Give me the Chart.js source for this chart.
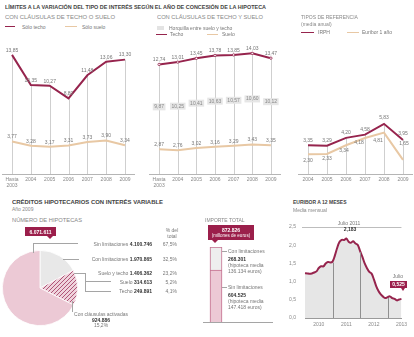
<!DOCTYPE html>
<html>
<head>
<meta charset="utf-8">
<script src="https://cdn.jsdelivr.net/npm/chart.js@4"></script>
<style>
body{margin:0;width:414px;height:337px;position:relative;background:#fff;font-family:"Liberation Sans",Arial,sans-serif;overflow:hidden}
canvas{position:absolute}
.t{position:absolute;white-space:nowrap;font-size:5px;line-height:1.2;color:#777}
.t b{color:#333}
</style>
</head>
<body>
<canvas id="c1" width="140" height="160" style="left:0;top:30px"></canvas>
<canvas id="c2" width="140" height="160" style="left:145px;top:30px"></canvas>
<canvas id="c3" width="119" height="160" style="left:295px;top:30px"></canvas>
<canvas id="pie" width="76" height="76" style="left:2px;top:250px"></canvas>
<canvas id="bar" width="22" height="80" style="left:205px;top:245px"></canvas>
<canvas id="eur" width="128" height="118" style="left:283px;top:215px"></canvas>
<script>
// datos
var years = [['Hasta', '2003'], '2004', '2005', '2006', '2007', '2008', '2009'];
var soloTecho = [13.85, 10.35, 10.27, 8.80, 11.48, 13.06, 13.30];
var soloSuelo = [3.77, 3.28, 3.17, 3.31, 3.73, 3.90, 3.34];
var techo = [12.74, 13.01, 13.45, 13.78, 13.85, 14.03, 13.47];
var suelo = [2.87, 2.76, 3.02, 3.16, 3.29, 3.43, 3.35];
var horquilla = [9.87, 10.25, 10.41, 10.63, 10.57, 10.60, 10.12];

var refYears = ['2004', '2005', '2006', '2007', '2008', '2009'];
var irph = [3.35, 3.29, 4.20, 4.58, 5.83, 3.95];
var euribor1 = [2.30, 2.33, 3.34, 4.18, 4.81, 1.65];

var tramos = ['Con limitaciones no activadas', 'Con cláusulas activadas', 'Sin limitaciones'];
var hipotecas = [1045979, 924886, 4100746];
var desglose = ['Suelo y techo', 'Suelo', 'Techo'];
var desgloseN = [1406362, 314613, 249891];

var importeLabels = ['Sin limitaciones', 'Con limitaciones'];
var importe = [604.525, 268.301];
var hipotecaMedia = ['147.418', '136.134'];

var meses = [];
for (var a = 2010; a <= 2013; a++) for (var m = 1; m <= 12; m++) if (a < 2013 || m <= 7) meses.push(a + '-' + (m < 10 ? '0' : '') + m);
var euribor12m = [1.232, 1.225, 1.215, 1.225, 1.249, 1.281, 1.373, 1.421, 1.420, 1.495, 1.541, 1.526,
                  1.550, 1.714, 1.924, 2.086, 2.147, 2.144, 2.183, 2.097, 2.067, 2.110, 2.044, 2.004,
                  1.837, 1.678, 1.499, 1.368, 1.266, 1.219, 1.061, 0.877, 0.740, 0.650, 0.588, 0.549,
                  0.575, 0.594, 0.545, 0.528, 0.484, 0.507, 0.525];

var maroon = '#96244d', beige = '#e8c8a4', pink = '#ecc9d5', grey = '#e8e8e8', badge = '#9b1f4b';

Chart.defaults.font.family = '"Liberation Sans", Arial, sans-serif';
Chart.defaults.font.size = 5;
Chart.defaults.color = '#888';

function comma(v, d) { return v.toFixed(d).replace('.', ','); }
function dots(n) { return String(n).replace(/\B(?=(\d{3})+(?!\d))/g, '.'); }

// lineas verticales y etiquetas de valor
var dropAndLabels = {
    id: 'dropAndLabels',
    beforeDatasetsDraw: function(chart) {
        var ctx = chart.ctx, x = chart.scales.x, y = chart.scales.y;
        ctx.save();
        ctx.strokeStyle = '#cfcfcf';
        ctx.lineWidth = 1;
        chart.data.labels.forEach(function(l, i) {
            var top = Math.max.apply(null, chart.data.datasets.map(function(d) { return d.data[i]; }));
            var px = Math.round(x.getPixelForValue(i)) + 0.5;
            ctx.beginPath();
            ctx.moveTo(px, y.getPixelForValue(top));
            ctx.lineTo(px, chart.chartArea.bottom);
            ctx.stroke();
        });
        ctx.restore();
    },
    afterDatasetsDraw: function(chart) {
        var ctx = chart.ctx, x = chart.scales.x, y = chart.scales.y;
        ctx.save();
        ctx.font = '5px "Liberation Sans"';
        ctx.fillStyle = '#777';
        ctx.textAlign = 'center';
        ctx.textBaseline = 'middle';
        chart.data.datasets.forEach(function(ds) {
            ds.data.forEach(function(v, i) {
                var dy = Array.isArray(ds.labelDy) ? ds.labelDy[i] : ds.labelDy;
                var dx = ds.labelDx ? ds.labelDx[i] : 0;
                ctx.fillText(comma(v, 2), x.getPixelForValue(i) + dx, y.getPixelForValue(v) + dy);
            });
        });
        ctx.restore();
    }
};

var horquillaBoxes = {
    id: 'horquillaBoxes',
    afterDatasetsDraw: function(chart) {
        var ctx = chart.ctx, x = chart.scales.x, y = chart.scales.y;
        ctx.save();
        ctx.font = '5px "Liberation Sans"';
        ctx.textAlign = 'center';
        ctx.textBaseline = 'middle';
        horquilla.forEach(function(v, i) {
            var px = x.getPixelForValue(i);
            var py = (y.getPixelForValue(techo[i]) + y.getPixelForValue(suelo[i])) / 2;
            var txt = comma(v, 2);
            var w = ctx.measureText(txt).width + 3;
            ctx.fillStyle = '#e6e6e6';
            ctx.fillRect(px - w / 2, py - 3.5, w, 7);
            ctx.fillStyle = '#888';
            ctx.fillText(txt, px, py);
        });
        ctx.restore();
    }
};

function topChart(id, labels, datasets, pad, extra) {
    return new Chart(document.getElementById(id), {
        type: 'line',
        data: { labels: labels, datasets: datasets },
        options: {
            responsive: false,
            animation: false,
            layout: { padding: pad },
            plugins: { legend: { display: false }, tooltip: { enabled: false } },
            scales: {
                x: {
                    offset: true,
                    grid: { display: false, drawTicks: false },
                    border: { color: '#b5b5b5' },
                    ticks: { color: '#888', padding: 3, maxRotation: 0, autoSkip: false },
                    afterFit: function(s) { s.height = 16; }
                },
                y: { display: false, min: 0, max: 16 }
            }
        },
        plugins: [dropAndLabels].concat(extra || [])
    });
}

function line(data, color, extra) {
    var d = { data: data, borderColor: color, borderWidth: 2, pointRadius: 0, tension: 0, labelDy: -4.5 };
    for (var k in extra) d[k] = extra[k];
    return d;
}

topChart('c1', years, [
    line(soloSuelo, beige),
    line(soloTecho, maroon)
], { top: 6.4, left: 2.6, right: 5.6, bottom: 0 });

topChart('c2', years, [
    line(suelo, beige),
    line(techo, maroon, { pointRadius: 1.2, pointBackgroundColor: '#fff', pointBorderColor: maroon, pointBorderWidth: 0.8 })
], { top: 6.4, left: 4.5, right: 2.5, bottom: 0 }, [horquillaBoxes]);

topChart('c3', refYears, [
    line(euribor1, beige, { labelDy: [6, 5, 5, 5, 8, -16], labelDx: [0, 0, -2, -6, -6, 1] }),
    line(irph, maroon, { labelDy: [-5, -5, -5, -5, -6, -6] })
], { top: 6.4, left: 3.5, right: 1.5, bottom: 0 });

// tarta
var pc = document.createElement('canvas');
pc.width = 4; pc.height = 4;
var pctx = pc.getContext('2d');
pctx.fillStyle = '#efd3dc';
pctx.fillRect(0, 0, 4, 4);
pctx.strokeStyle = '#a8466b';
pctx.lineWidth = 0.9;
pctx.beginPath();
pctx.moveTo(0, 4); pctx.lineTo(4, 0);
pctx.moveTo(-1, 1); pctx.lineTo(1, -1);
pctx.moveTo(3, 5); pctx.lineTo(5, 3);
pctx.stroke();
var hatch = document.getElementById('pie').getContext('2d').createPattern(pc, 'repeat');

new Chart(document.getElementById('pie'), {
    type: 'pie',
    data: {
        labels: tramos,
        datasets: [{ data: hipotecas, backgroundColor: [grey, hatch, pink], borderColor: '#fff', borderWidth: 0.8 }]
    },
    options: {
        responsive: false,
        animation: false,
        plugins: { legend: { display: false }, tooltip: { enabled: false } }
    }
});

// barra importe
var totalImporte = importe.reduce(function(a, b) { return a + b; }, 0);
new Chart(document.getElementById('bar'), {
    type: 'bar',
    data: {
        labels: ['2009'],
        datasets: [
            { label: importeLabels[0], data: [importe[0]], backgroundColor: pink, borderColor: '#c4718f', borderWidth: 1, barThickness: 12 },
            { label: importeLabels[1], data: [importe[1]], backgroundColor: '#eeeeee', borderColor: '#c4718f', borderWidth: 1, barThickness: 12 }
        ]
    },
    options: {
        responsive: false,
        animation: false,
        layout: { padding: { top: 2, bottom: 3 } },
        plugins: { legend: { display: false }, tooltip: { enabled: false } },
        scales: {
            x: { display: false, stacked: true },
            y: { display: false, stacked: true, min: 0, max: totalImporte }
        }
    }
});

// euribor mensual
var eurLines = {
    id: 'eurLines',
    afterDatasetsDraw: function(chart) {
        var ctx = chart.ctx, x = chart.scales.x, y = chart.scales.y, area = chart.chartArea;
        ctx.save();
        ctx.lineWidth = 1;
        ctx.strokeStyle = '#bdbdbd';
        var gy = Math.round(y.getPixelForValue(2.5)) + 0.5;
        ctx.beginPath(); ctx.moveTo(area.left - 3, gy); ctx.lineTo(area.right, gy); ctx.stroke();
        ctx.strokeStyle = '#8f8f8f';
        meses.forEach(function(m, i) {
            if (i > 0 && m.slice(5) === '01') {
                var px = Math.round(x.getPixelForValue(i)) + 0.5;
                ctx.beginPath();
                ctx.moveTo(px, y.getPixelForValue(euribor12m[i]) + 1);
                ctx.lineTo(px, area.bottom);
                ctx.stroke();
            }
        });
        ctx.restore();
    }
};

new Chart(document.getElementById('eur'), {
    type: 'line',
    data: {
        labels: meses,
        datasets: [{
            data: euribor12m, borderColor: maroon, borderWidth: 2, pointRadius: 0, tension: 0.35,
            fill: 'origin', backgroundColor: '#e6e6e6'
        }]
    },
    options: {
        responsive: false,
        animation: false,
        layout: { padding: { left: 2, right: 7, top: 8, bottom: 0 } },
        plugins: { legend: { display: false }, tooltip: { enabled: false } },
        scales: {
            x: {
                offset: false,
                grid: { display: false, drawTicks: false },
                border: { color: '#9a9a9a' },
                ticks: {
                    autoSkip: false, maxRotation: 0, padding: 4,
                    callback: function(v, i) { return meses[i].slice(5) === '07' ? meses[i].slice(0, 4) : ''; }
                },
                afterFit: function(s) { s.height = 15; }
            },
            y: {
                min: 0, max: 2.5,
                grid: { display: false, drawTicks: false },
                border: { display: false },
                ticks: { stepSize: 0.5, padding: 9, callback: function(v) { return comma(v, 1); } },
                afterFit: function(s) { s.width = 20; }
            }
        }
    },
    plugins: [eurLines]
});

// textos
function T(x, y, html, o) {
    o = o || {};
    var d = document.createElement('div');
    d.className = 't';
    d.innerHTML = html;
    if (o.fs) d.style.fontSize = o.fs + 'px';
    if (o.b) d.style.fontWeight = 'bold';
    if (o.c) d.style.color = o.c;
    if (o.bg) { d.style.background = o.bg; d.style.padding = '0 2px'; }
    document.body.appendChild(d);
    var r = d.getBoundingClientRect();
    var sx = o.w ? o.w / r.width : 1;
    var rw = r.width * sx;
    var left = o.a === 'r' ? x - rw : o.a === 'c' ? x - rw / 2 : x;
    d.style.left = left + 'px';
    d.style.top = (y - r.height / 2) + 'px';
    if (sx !== 1) { d.style.transformOrigin = '0 0'; d.style.transform = 'scaleX(' + sx + ')'; }
    return d;
}
function box(x, y, w, h, c) {
    var d = document.createElement('div');
    d.style.cssText = 'position:absolute;left:' + x + 'px;top:' + y + 'px;width:' + w + 'px;height:' + h + 'px;background:' + c;
    document.body.appendChild(d);
}
function H(x1, x2, y) { box(x1, y - 0.5, x2 - x1, 1, '#a5a5a5'); }
function V(x, y1, y2) { box(x - 0.5, y1, 1, y2 - y1, '#a5a5a5'); }
function tri(x, y, w, h, c) {
    var d = document.createElement('div');
    d.style.cssText = 'position:absolute;left:' + (x - w / 2) + 'px;top:' + y + 'px;width:0;height:0;border-left:' + (w / 2) + 'px solid transparent;border-right:' + (w / 2) + 'px solid transparent;border-top:' + h + 'px solid ' + c;
    document.body.appendChild(d);
}

T(5, 7, 'LÍMITES A LA VARIACIÓN DEL TIPO DE INTERÉS SEGÚN EL AÑO DE CONCESIÓN DE LA HIPOTECA', { b: 1, c: '#444', w: 261 });

T(5, 17, 'CON CLÁUSULAS DE TECHO O SUELO', { c: '#888', w: 110 });
box(5, 25.7, 10, 1.6, maroon); T(22, 26.5, 'Sólo techo');
box(65, 25.7, 12, 1.6, beige); T(82, 26.5, 'Sólo suelo');

T(157, 17, 'CON CLÁUSULAS DE TECHO Y SUELO', { c: '#888', w: 106 });
box(157, 26, 7, 4, '#e3e3e3'); T(169, 28, 'Horquilla entre suelo y techo');
box(156, 33.5, 11, 1.6, maroon); T(170, 34.3, 'Techo');
box(207, 33.5, 11, 1.6, beige); T(222, 34.3, 'Suelo');

T(301, 17, 'TIPOS DE REFERENCIA', { c: '#888' });
T(301, 23.5, '(media anual)', { c: '#888' });
box(301, 31.5, 13, 1.6, maroon); T(318, 32.3, 'IRPH');
box(347, 31.5, 12, 1.6, beige); T(362, 32.3, 'Euribor 1 año');

// hipotecas
var totalHip = hipotecas.reduce(function(a, b) { return a + b; }, 0);
function pct(n) { return comma(n / totalHip * 100, 1) + '%'; }

T(12, 202, 'CRÉDITOS HIPOTECARIOS CON INTERÉS VARIABLE', { b: 1, c: '#444', w: 151 });
T(12, 208.5, 'Año 2009', { c: '#888' });
T(12, 220, 'NÚMERO DE HIPOTECAS', { c: '#888', w: 70 });
box(25, 227, 31, 9, badge); tri(50, 236, 6, 3, badge);
T(40.5, 231.5, dots(totalHip), { b: 1, c: '#fff', a: 'c' });

T(172, 230, '% del', { a: 'c' }); T(172, 235.5, 'total', { a: 'c' });
var conLim = hipotecas[0] + hipotecas[1];
var rows = [[244, importeLabels[0], hipotecas[2]], [259, importeLabels[1], conLim]];
desglose.forEach(function(d, i) { rows.push([[273, 281.5, 291][i], d, desgloseN[i]]); });
rows.forEach(function(r) {
    T(152, r[0], r[1] + ' <b>' + dots(r[2]) + '</b>', { a: 'r' });
    T(177, r[0], pct(r[2]), { a: 'r' });
});
V(33, 243, 253); H(33, 78, 243.5);
H(63, 79, 259);
H(74, 85, 273); V(85, 273, 291.5); H(85, 111, 281.5); H(85, 111, 291);
V(72, 301, 312);
T(101, 314, 'Con cláusulas activadas', { a: 'c' });
T(101, 319.5, '<b>' + dots(hipotecas[1]) + '</b>', { a: 'c' });
T(101, 325, pct(hipotecas[1]), { a: 'c' });

// importe
T(205, 220, 'IMPORTE TOTAL', { c: '#888' });
box(208, 225, 46, 15, badge); tri(215, 240, 6, 3, badge);
T(231, 229.5, dots(Math.round(totalImporte * 1000)), { b: 1, c: '#fff', a: 'c' });
T(231, 235.5, '(millones de euros)', { c: '#fff', a: 'c', fs: 4.5 });
H(203, 273, 322.5);
[[251, 1], [287, 0]].forEach(function(r) {
    var y = r[0], k = r[1];
    H(222, 227, y);
    T(228, y, importeLabels[k]);
    T(228, y + 8, '<b>' + dots(Math.round(importe[k] * 1000)) + '</b>');
    T(228, y + 14, '(hipoteca media');
    T(228, y + 20, hipotecaMedia[k] + ' euros)');
});

// euribor
T(293, 202, 'EURIBOR A 12 MESES', { b: 1, c: '#444' });
T(293, 210, 'Media mensual', { c: '#888' });
var maxE = Math.max.apply(null, euribor12m);
T(349, 222.5, 'Julio 2011', { a: 'c', bg: '#fff' });
T(350, 229, '<b>' + comma(maxE, 3) + '</b>', { a: 'c' });
T(398, 276, 'Julio', { a: 'c' });
box(390, 280.5, 17, 7, badge); tri(403, 287.5, 4, 3, badge);
T(398.5, 284, comma(euribor12m[euribor12m.length - 1], 3), { b: 1, c: '#fff', a: 'c' });
</script>
</body>
</html>
